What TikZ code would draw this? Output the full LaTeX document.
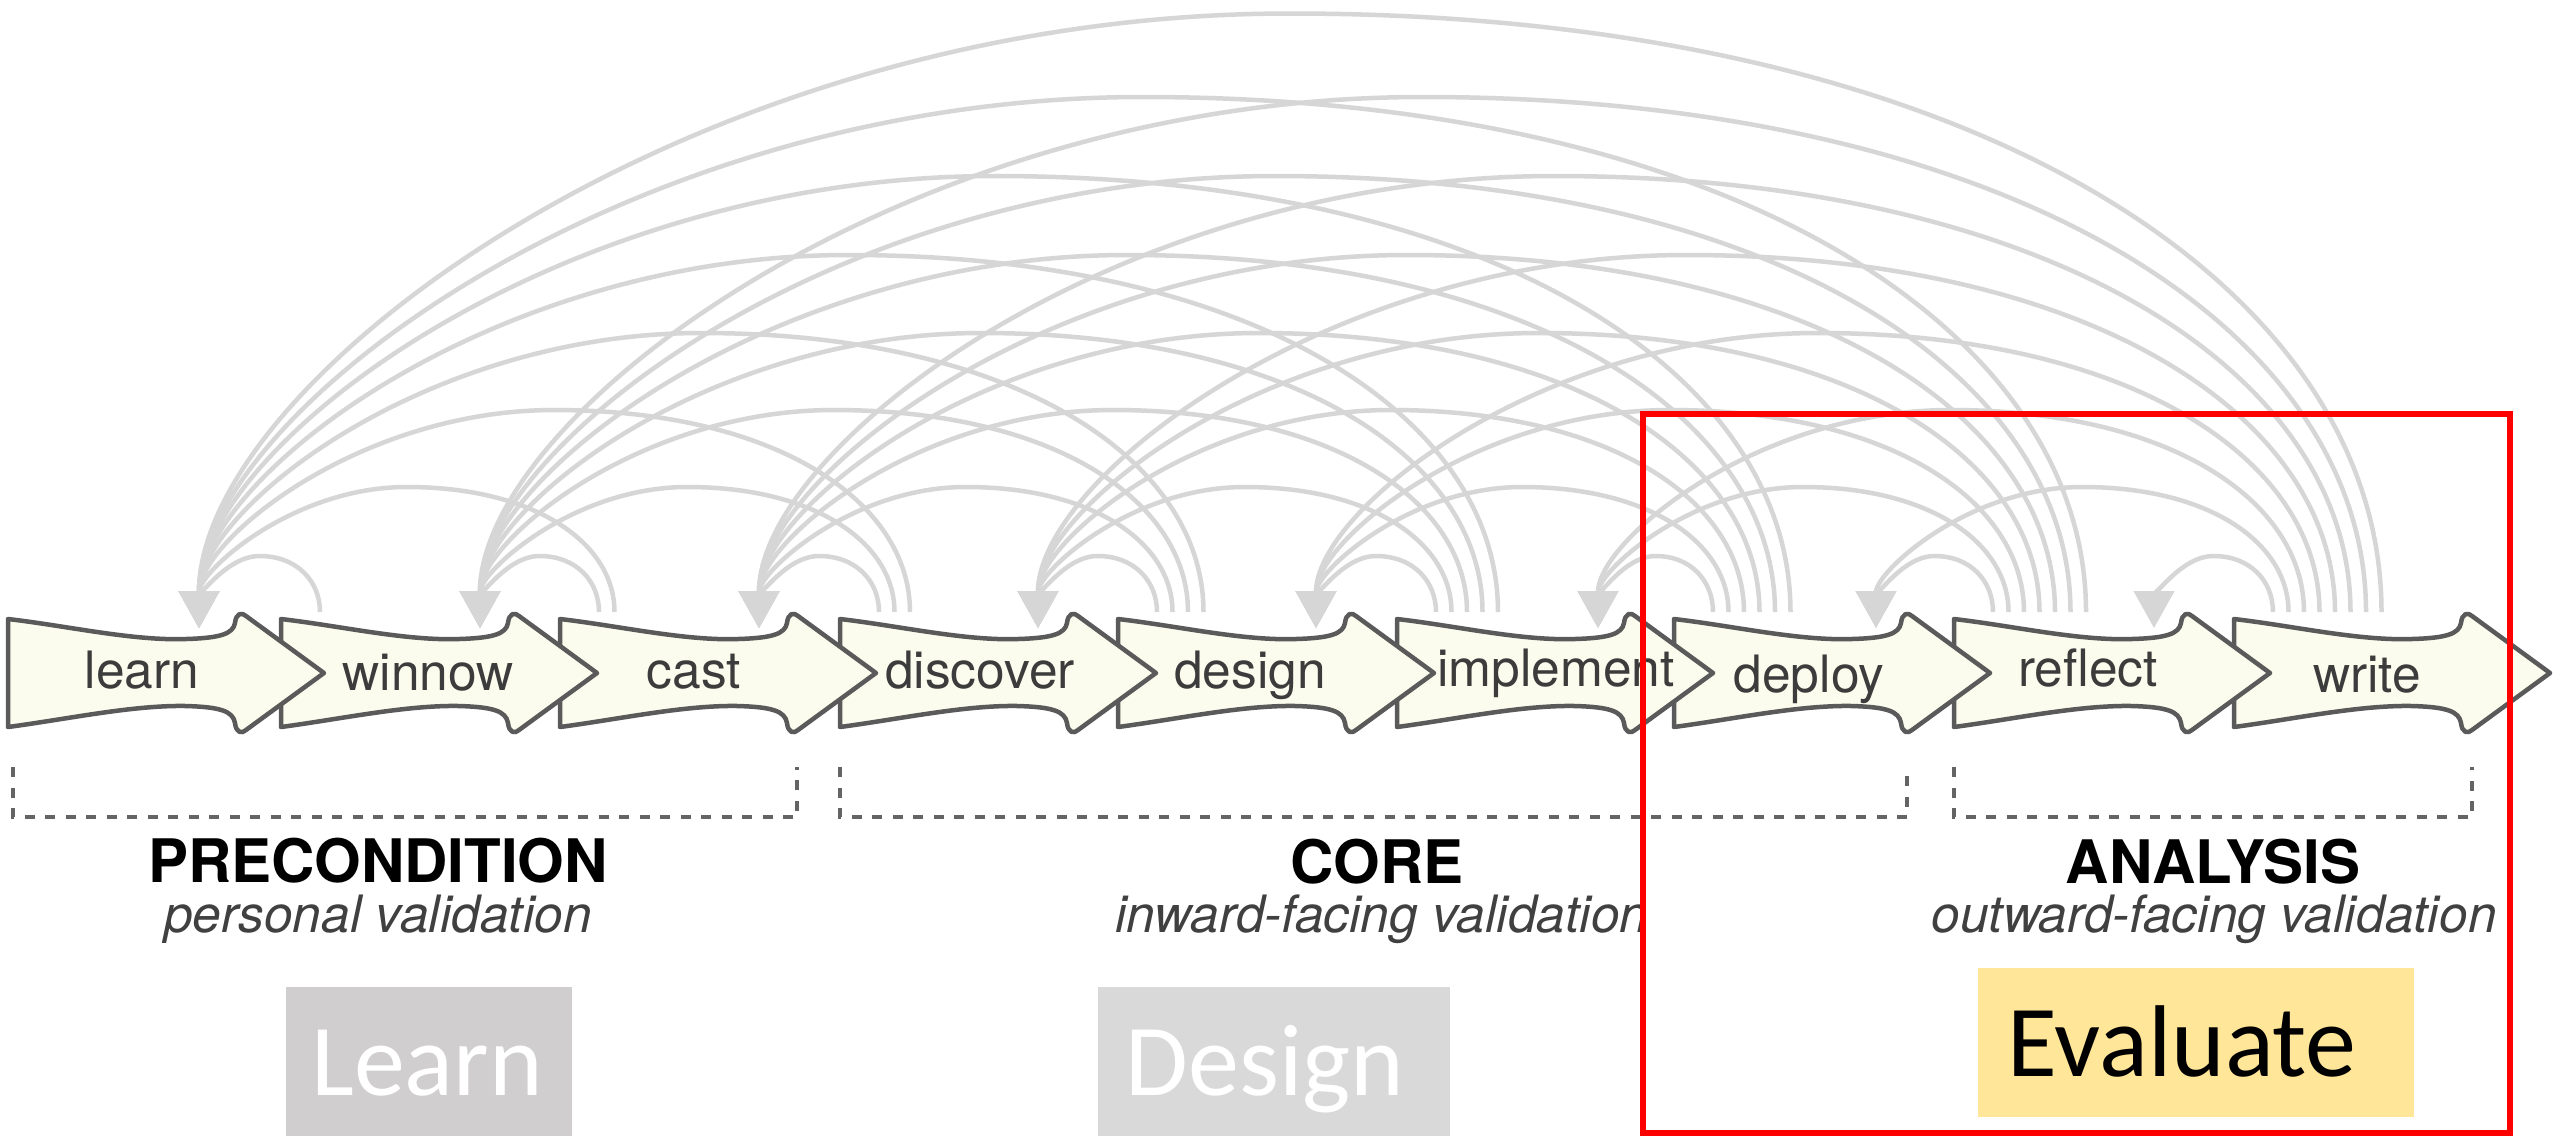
\documentclass[tikz,border=0pt]{standalone}
\usepackage{fontspec}
\setmainfont{TeX Gyre Heros}
\newfontfamily\calfont{Carlito}
\usetikzlibrary{arrows.meta,calc}
\definecolor{arcgray}{RGB}{214,214,214}
\definecolor{stagefill}{RGB}{252,252,238}
\definecolor{stageline}{RGB}{90,90,90}
\definecolor{stagetext}{RGB}{60,60,60}
\definecolor{subtext}{RGB}{64,64,64}
\definecolor{bracketgray}{RGB}{100,100,100}
\definecolor{learnbox}{RGB}{208,206,206}
\definecolor{designbox}{RGB}{217,217,217}
\definecolor{evalbox}{RGB}{255,230,153}
\begin{document}
\begin{tikzpicture}[x=1pt,y=-1pt,
  arcline/.style={draw=arcgray,line width=4.5pt,-{Triangle[width=40pt,length=37pt]}},
  stageshape/.style={draw=stageline,fill=stagefill,line width=4.5pt,line join=round},
  stagelabel/.style={text=stagetext,font=\fontsize{51.5}{60}\selectfont,anchor=base,inner sep=0pt},
  phasetitle/.style={text=black,font=\fontsize{60}{70}\selectfont\bfseries,anchor=base,inner sep=0pt},
  phasesub/.style={text=subtext,font=\fontsize{51.5}{60}\selectfont\itshape,anchor=base,inner sep=0pt},
  bracketline/.style={draw=bracketgray,line width=4.5pt,dash pattern=on 10pt off 10.5pt},
  boxtext/.style={font=\calfont\fontsize{102}{110}\selectfont,anchor=base,inner sep=0pt},
  bgbox/.style={inner sep=0pt,outer sep=0pt,draw=none},
  framebox/.style={draw=red,line width=6pt}
]
\useasboundingbox (0,0) rectangle (2560,1136);
\fill[white] (0,0) rectangle (2560,1136);

% arrowhead targets
\foreach \i/\x in {0/199,1/480,2/759,3/1038,4/1316,5/1598,6/1876,7/2154}
  \coordinate (t\i) at (\x,628);

% backward arcs
\foreach \j in {1,...,8}{
  \foreach \k in {1,...,\j}{
    \pgfmathtruncatemacro\i{\j-\k}
    \pgfmathtruncatemacro\d{\k-1}
    \pgfmathsetmacro\xs{{8,281,560,840,1118,1397,1674,1954,2234}[\j]+39+15.5*\d}
    \pgfmathsetmacro\xe{{199,480,759,1038,1316,1598,1876,2154}[\i]}
    \pgfmathsetmacro\yp{{556,487,410,333,255,176,97,13.5}[\d]}
    \pgfmathsetmacro\xm{(\xs+\xe)/2}
    \pgfmathsetmacro\rx{(\xs-\xe)/2}
    \pgfmathsetmacro\hs{612-\yp}
    \pgfmathsetmacro\he{628-\yp}
    \coordinate (s\j-\i) at (\xs,612);
    \coordinate (p\j-\i) at (\xm,\yp);
    \draw[arcline] (s\j-\i) .. controls +(0,-0.55*\hs) and +(0.62*\rx,0) .. (p\j-\i)
       .. controls +(-0.552*\rx,0) and +(0,-0.4*\he) .. (t\i);
  }
}

% stage arrows (drawn right to left so that each head lies over the next body)
\foreach \L in {2234,1954,1674,1397,1118,840,560,281,8}{
  \begin{scope}[shift={(\L,0)}]
    \path[stageshape] (0,619) .. controls (60,626) and (125,641) .. (178,639)
      .. controls (212,638) and (225,634) .. (227,623)
      .. controls (228,613) and (234,612) .. (238,616)
      -- (316,673) -- (238,730)
      .. controls (234,734) and (228,733) .. (227,723)
      .. controls (225,711) and (212,707) .. (178,706)
      .. controls (125,705) and (60,719) .. (0,727) -- cycle;
  \end{scope}
}

% stage labels
\node[stagelabel] (lbl0) at (142,688) {learn};
\node[stagelabel] (lbl1) at (428,690) {winnow};
\node[stagelabel] (lbl2) at (694,688) {cast};
\node[stagelabel] (lbl3) at (980,688) {discover};
\node[stagelabel] (lbl4) at (1250,688) {design};
\node[stagelabel] (lbl5) at (1556,686) {implement};
\node[stagelabel] (lbl6) at (1809,692) {deploy};
\node[stagelabel] (lbl7) at (2088,686) {reflect};
\node[stagelabel] (lbl8) at (2367,692) {write};

% brackets
\draw[bracketline] (13,767) -- (13,817) -- (797,817) -- (797,767);
\draw[bracketline] (840,767) -- (840,817) -- (1907,817) -- (1907,767);
\draw[bracketline] (1954,767) -- (1954,817) -- (2472,817) -- (2472,767);

% phase titles
\node[phasetitle] (pre) at (378,882) {PRECONDITION};
\node[phasesub] (presub) at (378,932) {personal validation};
\node[phasetitle] (core) at (1377,883) {CORE};
\node[phasesub] (coresub) at (1382,932) {inward-facing validation};
\node[phasetitle] (ana) at (2213,883) {ANALYSIS};
\node[phasesub] (anasub) at (2214,932) {outward-facing validation};

% bottom boxes
\node[bgbox,fill=learnbox,minimum width=286pt,minimum height=149pt] (learnbg) at (429,1061.5) {};
\node[boxtext,text=white] (learntxt) at (427,1095) {Learn};
\node[bgbox,fill=designbox,minimum width=352pt,minimum height=149pt] (designbg) at (1274,1061.5) {};
\node[boxtext,text=white] (designtxt) at (1265,1095) {Design};
\node[bgbox,fill=evalbox,minimum width=436pt,minimum height=149pt] (evalbg) at (2196,1042.5) {};
\node[boxtext,text=black] (evaltxt) at (2182,1076) {Evaluate};

% red frame
\draw[framebox] (1643,414) rectangle (2510,1133);
\end{tikzpicture}
\end{document}
